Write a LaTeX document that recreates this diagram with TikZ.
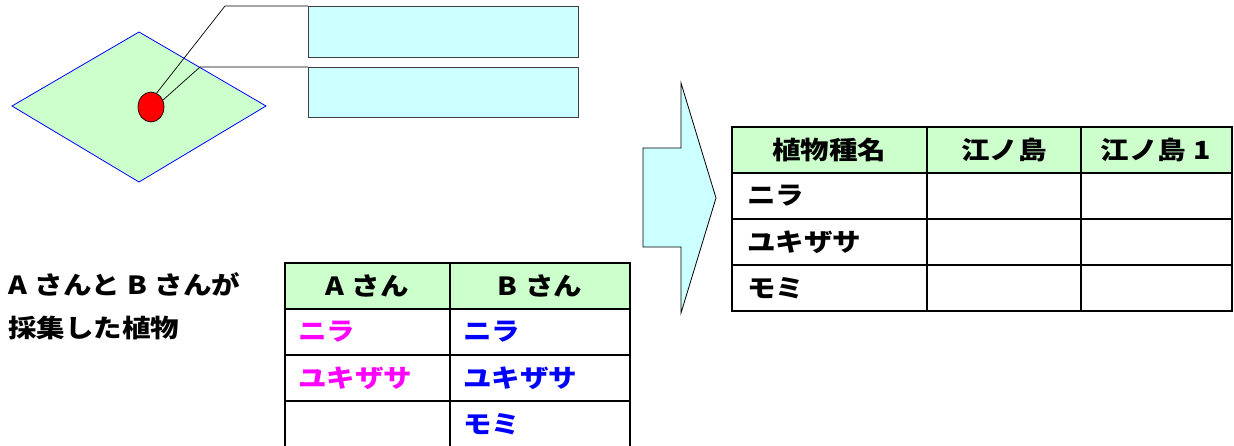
\documentclass[tikz,border=0pt]{standalone}
\usepackage{fontspec}
\usetikzlibrary{shapes.geometric}
\setmainfont{Noto Sans CJK JP}[FakeStretch=1.14,BoldFeatures={FakeStretch=1.14}]
\definecolor{lgreen}{HTML}{CCFFCC}
\definecolor{lcyan}{HTML}{CCFFFF}
\definecolor{mag}{HTML}{FF00FF}
\definecolor{blu}{HTML}{0000FF}
\begin{document}
\begin{tikzpicture}[x=1pt,y=-1pt,
  txt/.style={inner sep=0pt,font=\fontsize{25}{28}\selectfont\bfseries},
  tbl/.style={line width=1.8pt,black},
  hdr/.style={fill=lgreen},
  infobox/.style={draw=black!75,line width=1.3pt,fill=lcyan,minimum width=270pt,anchor=north west,inner sep=0pt},
  lead/.style={black,line width=0.7pt}]
\useasboundingbox (0,0) rectangle (1234,445);
\clip (0,0) rectangle (1234,445);
% diamond site
\draw[blu,line width=0.8pt,fill=lgreen] (12,106) -- (139,32) -- (266,106) -- (139,182) -- cycle;
\node[draw=black,line width=0.7pt,fill=red,ellipse,minimum width=26pt,minimum height=30pt,inner sep=0pt] (dot) at (151,107) {};
\node[infobox,minimum height=51pt] (box1) at (308,6) {};
\node[infobox,minimum height=50pt] (box2) at (308,67) {};
\coordinate (k1) at (225,6);
\coordinate (k2) at (200,67);
\draw[lead] (dot.68) -- (k1) -- (box1.north west);
\draw[lead] (dot.30) -- (k2) -- (box2.north west);
% left text
\node[txt,anchor=west] (t1) at (8,284) {A\hspace{0.3em}さんと\hspace{0.3em}B\hspace{0.3em}さんが};
\node[txt,anchor=west] (t2) at (8,328) {採集した植物};
% table 1
\fill[hdr] (285,263) rectangle (630,309);
\draw[tbl] (285,263) rectangle (630,447);
\draw[tbl] (285,309) -- (630,309) (285,355) -- (630,355) (285,401) -- (630,401) (450,263) -- (450,447);
\node[txt] (ha) at (367,286) {A\hspace{0.3em}さん};
\node[txt] (hb) at (540,286) {B\hspace{0.3em}さん};
\node[txt,anchor=west,text=mag] (a1) at (298,332) {ニラ};
\node[txt,anchor=west,text=mag] (a2) at (298,378) {ユキザサ};
\node[txt,anchor=west,text=blu] (b1) at (463,332) {ニラ};
\node[txt,anchor=west,text=blu] (b2) at (463,378) {ユキザサ};
\node[txt,anchor=west,text=blu] (b3) at (463,424) {モミ};
% arrow
\draw[black,line width=0.8pt,fill=lcyan] (643,148) -- (681,148) -- (681,83) -- (716,198) -- (681,313) -- (681,247) -- (643,247) -- cycle;
% main table
\fill[hdr] (732,127) rectangle (1232,173);
\draw[tbl] (732,127) rectangle (1232,311);
\draw[tbl] (732,173) -- (1232,173) (732,219) -- (1232,219) (732,265) -- (1232,265) (927,127) -- (927,311) (1081,127) -- (1081,311);
\node[txt] (m1) at (829,150) {植物種名};
\node[txt] (m2) at (1004,150) {江ノ島};
\node[txt] (m3) at (1156,150) {江ノ島\hspace{0.3em}1};
\node[txt,anchor=west] (r1) at (747,196) {ニラ};
\node[txt,anchor=west] (r2) at (747,242) {ユキザサ};
\node[txt,anchor=west] (r3) at (747,288) {モミ};
\end{tikzpicture}
\end{document}
